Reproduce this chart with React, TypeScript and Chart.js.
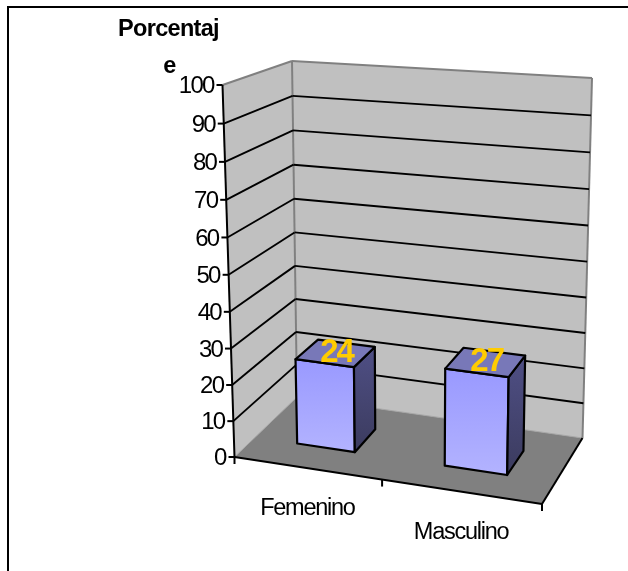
import React, { useEffect, useRef } from "react";
import { Chart, registerables } from "chart.js";

Chart.register(...registerables);

const categories = ["Femenino", "Masculino"];
const percentages = [24, 27];
const axisTitleLines = ["Porcentaj", "e"];
const valueMin = 0;
const valueMax = 100;
const valueStep = 10;

type Pt = [number, number];

// Corners of the projected box: floor (front-left, front-right, back-right, back-left)
// and the same four at the top of the value range.
const floorCorners: Pt[] = [[234.5, 457], [542, 504], [582.5, 438], [297, 397]];
const ceilCorners: Pt[] = [[222.5, 85], [550, 120], [592, 78], [292, 61]];
const perspectiveU = -0.077;
const perspectiveV = -0.04;
const barDepthFront = 0.33;
const barDepthBack = 0.7;

const SANS = '"Liberation Sans", Arial, sans-serif';

const warp = (t: number, g: number) => (t * (1 + g)) / (1 + g * t);
const mix = (a: Pt, b: Pt, t: number): Pt => [a[0] + (b[0] - a[0]) * t, a[1] + (b[1] - a[1]) * t];

function project(u: number, v: number, w: number): Pt {
  const pu = warp(u, perspectiveU);
  const pv = warp(v, perspectiveV);
  const face = (c: Pt[]) => mix(mix(c[0], c[1], pu), mix(c[3], c[2], pu), w);
  return mix(face(floorCorners), face(ceilCorners), pv);
}

function polygon(ctx: CanvasRenderingContext2D, pts: Pt[]) {
  ctx.beginPath();
  pts.forEach((p, i) => (i ? ctx.lineTo(p[0], p[1]) : ctx.moveTo(p[0], p[1])));
  ctx.closePath();
}

function segment(ctx: CanvasRenderingContext2D, a: Pt, b: Pt, color: string, width: number) {
  ctx.beginPath();
  ctx.moveTo(a[0], a[1]);
  ctx.lineTo(b[0], b[1]);
  ctx.strokeStyle = color;
  ctx.lineWidth = width;
  ctx.stroke();
}

function label(
  ctx: CanvasRenderingContext2D,
  text: string,
  x: number,
  y: number,
  font: string,
  color: string,
  spacing: string,
  align: CanvasTextAlign = "center"
) {
  ctx.font = font;
  ctx.fillStyle = color;
  ctx.textAlign = align;
  ctx.textBaseline = "middle";
  (ctx as any).letterSpacing = spacing;
  ctx.fillText(text, x, y);
  (ctx as any).letterSpacing = "0px";
}

// Paints the frame, walls, floor and axes behind the bars.
const roomPlugin = {
  id: "room3d",
  beforeDatasetsDraw(chart: any) {
    const ctx: CanvasRenderingContext2D = chart.ctx;
    const yScale = chart.scales.y;
    const xScale = chart.scales.x;
    const area = chart.chartArea;
    const toV = (value: number) => (area.bottom - yScale.getPixelForValue(value)) / (area.bottom - area.top);
    ctx.save();
    ctx.lineCap = "butt";
    ctx.lineJoin = "miter";

    // outer rule, open on the right and at the bottom
    segment(ctx, [628, 7], [8, 7], "#000", 2);
    segment(ctx, [8, 6], [8, 571], "#000", 2);

    // walls
    polygon(ctx, [project(0, 0, 0), project(0, 1, 0), project(0, 1, 1), project(0, 0, 1)]);
    ctx.fillStyle = "#C0C0C0";
    ctx.fill();
    polygon(ctx, [project(0, 0, 1), project(0, 1, 1), project(1, 1, 1), project(1, 0, 1)]);
    ctx.fill();

    // floor
    polygon(ctx, [project(0, 0, 0), project(1, 0, 0), project(1, 0, 1), project(0, 0, 1)]);
    ctx.fillStyle = "#808080";
    ctx.fill();

    // wall edges
    segment(ctx, project(0, 1, 0), project(0, 1, 1), "#808080", 2);
    segment(ctx, project(0, 1, 1), project(1, 1, 1), "#808080", 2);
    segment(ctx, project(0, 0, 1), project(0, 1, 1), "#808080", 2);
    segment(ctx, project(1, 0, 1), project(1, 1, 1), "#808080", 2);
    segment(ctx, project(0, 0, 0), project(0, 0, 1), "#A6A6A6", 1);
    segment(ctx, project(0, 0, 1), project(1, 0, 1), "#A6A6A6", 1);

    // value gridlines and ticks
    for (const tick of yScale.ticks) {
      const v = toV(tick.value);
      const front = project(0, v, 0);
      if (tick.value > valueMin && tick.value < valueMax) {
        segment(ctx, front, project(0, v, 1), "#000", 1.9);
        segment(ctx, project(0, v, 1), project(1, v, 1), "#000", 1.9);
      }
      segment(ctx, front, [front[0] - 6, front[1]], "#000", 2);
      label(ctx, String(tick.value), front[0] - 9, front[1] + 1.5, `24px ${SANS}`, "#000", "-1.8px", "right");
    }

    // front axis lines
    segment(ctx, project(0, 0, 0), project(0, 1, 0), "#000", 2);
    segment(ctx, project(0, 0, 0), project(1, 0, 0), "#000", 2);
    segment(ctx, project(1, 0, 0), project(1, 0, 1), "#000", 2);

    // category ticks and labels
    const toU = (px: number) => (px - area.left) / (area.right - area.left);
    [0, 0.5, 1].forEach((u) => {
      const p = project(u, 0, 0);
      segment(ctx, p, [p[0], p[1] + 7], "#000", 2);
    });
    categories.forEach((name, i) => {
      const u = toU(xScale.getPixelForValue(i));
      const edge = mix(floorCorners[0], floorCorners[1], u);
      label(ctx, name, edge[0] - 4, edge[1] + 40, `23.5px ${SANS}`, "#000", "-1.25px");
    });

    // axis title
    label(ctx, axisTitleLines[0], 168.5, 30, `bold 23.5px ${SANS}`, "#000", "-0.7px");
    label(ctx, axisTitleLines[1], 169.5, 67, `bold 23.5px ${SANS}`, "#000", "-0.7px");
    ctx.restore();
  },
};

// Extrudes each bar the scales laid out into a box and prints its value on the lid.
const boxPlugin = {
  id: "box3d",
  afterDatasetsDraw(chart: any) {
    const ctx: CanvasRenderingContext2D = chart.ctx;
    const area = chart.chartArea;
    const bars = chart.getDatasetMeta(0).data;
    ctx.save();
    ctx.lineJoin = "round";
    ctx.lineWidth = 2.2;
    ctx.strokeStyle = "#000";
    bars.forEach((bar: any, i: number) => {
      const uL = (bar.x - bar.width / 2 - area.left) / (area.right - area.left);
      const uR = (bar.x + bar.width / 2 - area.left) / (area.right - area.left);
      const v = (area.bottom - bar.y) / (area.bottom - area.top);
      const f = barDepthFront;
      const b = barDepthBack;

      const ftl = project(uL, v, f);
      const ftr = project(uR, v, f);
      const fbl = project(uL, 0, f);
      const fbr = project(uR, 0, f);
      const btl = project(uL, v, b);
      const btr = project(uR, v, b);
      const bbr = project(uR, 0, b);

      const frontFill = ctx.createLinearGradient(0, ftl[1], 0, fbr[1]);
      frontFill.addColorStop(0, "#9999FF");
      frontFill.addColorStop(1, "#B3B3FF");
      polygon(ctx, [ftl, ftr, fbr, fbl]);
      ctx.fillStyle = frontFill;
      ctx.fill();
      ctx.stroke();

      const sideFill = ctx.createLinearGradient(0, btr[1], 0, fbr[1]);
      sideFill.addColorStop(0, "#4F4F85");
      sideFill.addColorStop(1, "#3B3B5E");
      polygon(ctx, [ftr, btr, bbr, fbr]);
      ctx.fillStyle = sideFill;
      ctx.fill();
      ctx.stroke();

      polygon(ctx, [ftl, ftr, btr, btl]);
      ctx.fillStyle = "#7878B8";
      ctx.fill();
      ctx.stroke();

      const cx = (ftl[0] + ftr[0] + btr[0] + btl[0]) / 4;
      const cy = (ftl[1] + ftr[1] + btr[1] + btl[1]) / 4;
      label(ctx, String(percentages[i]), cx + 1, cy, `bold 33px ${SANS}`, "#FFCC00", "-2px");
    });
    ctx.restore();
  },
};

export default function App() {
  const canvasRef = useRef<HTMLCanvasElement>(null);

  useEffect(() => {
    const chart = new Chart(canvasRef.current as HTMLCanvasElement, {
      type: "bar",
      data: {
        labels: categories,
        datasets: [
          {
            data: percentages,
            backgroundColor: "rgba(0,0,0,0)",
            borderWidth: 0,
            categoryPercentage: 1,
            barPercentage: 0.4,
          },
        ],
      },
      options: {
        responsive: false,
        animation: false,
        layout: { padding: { left: 222, right: 36, top: 61, bottom: 67 } },
        plugins: { legend: { display: false }, tooltip: { enabled: false }, title: { display: false } },
        scales: {
          x: { display: false },
          y: { display: false, min: valueMin, max: valueMax, ticks: { stepSize: valueStep } },
        },
      },
      plugins: [roomPlugin, boxPlugin],
    } as any);
    return () => chart.destroy();
  }, []);

  return (
    <canvas
      ref={canvasRef}
      width={628}
      height={571}
      style={{ position: "absolute", left: 0, top: 0, width: 628, height: 571, display: "block", background: "#fff" }}
    />
  );
}
